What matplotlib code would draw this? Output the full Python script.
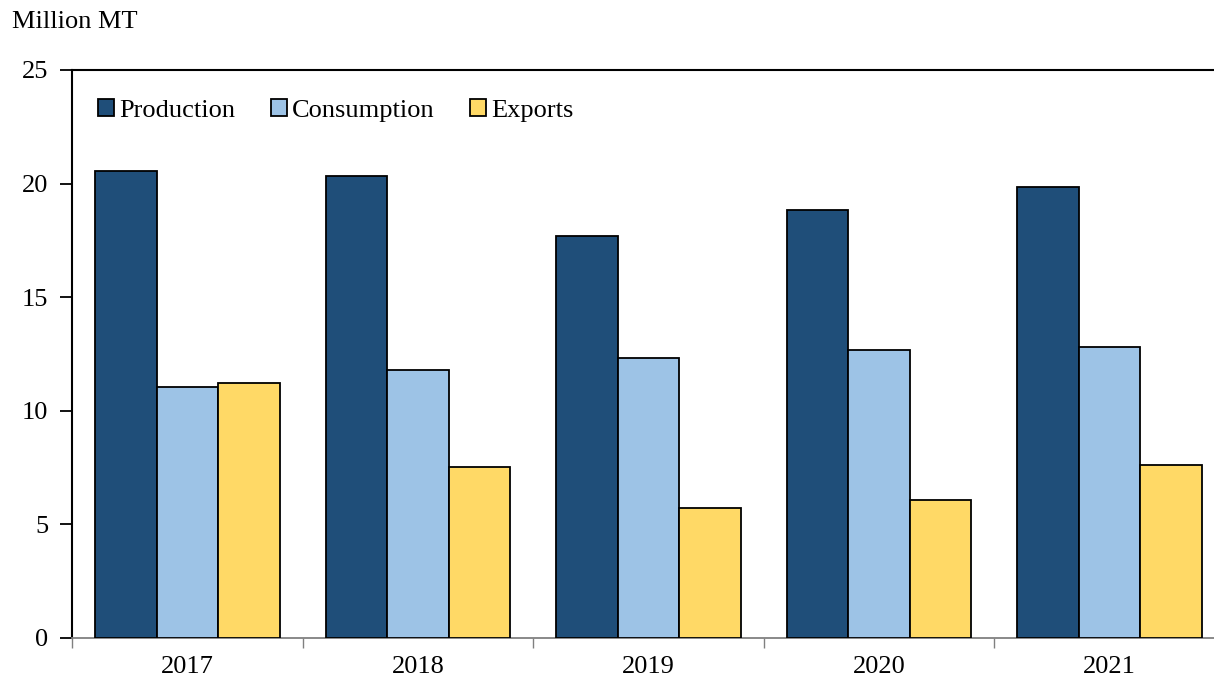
import numpy as np
import matplotlib.pyplot as plt

years = ['2017', '2018', '2019', '2020', '2021']
production = [20.55, 20.33, 17.69, 18.84, 19.85]
consumption = [11.05, 11.80, 12.32, 12.68, 12.81]
exports = [11.22, 7.53, 5.72, 6.07, 7.61]

series = [('Production', production, '#1F4E79'),
          ('Consumption', consumption, '#9DC3E6'),
          ('Exports', exports, '#FFD966')]

plt.rcParams['font.family'] = ['Liberation Serif', 'DejaVu Serif']
plt.rcParams['font.size'] = 19

fig = plt.figure(figsize=(12.14, 6.79), dpi=100)
ax = fig.add_axes([0.0593, 0.0604, 0.9497, 0.8366])

x = np.arange(len(years))
width = 0.8 / 3
for i, (name, vals, color) in enumerate(series):
    ax.bar(x + (i - 1) * width, vals, width, color=color, edgecolor='black',
           linewidth=1.3, label=name, zorder=3)

ax.set_xlim(-0.5, len(years) - 0.5)
ax.set_ylim(0, 25)
ax.set_yticks([0, 5, 10, 15, 20, 25])

# category labels centred, tick marks on the boundaries between groups
ax.set_xticks(x)
ax.set_xticklabels(years)
ax.set_xticks(np.arange(len(years) + 1) - 0.5, minor=True)
ax.tick_params(axis='x', which='major', length=0, pad=13)
ax.tick_params(axis='x', which='minor', length=7, color='#808080', width=1)
ax.tick_params(axis='y', length=9, width=1.3, pad=8, direction='out')

ax.spines['right'].set_visible(False)
ax.spines['top'].set_linewidth(1.5)
ax.spines['left'].set_linewidth(1.5)
ax.spines['bottom'].set_color('#808080')
ax.spines['bottom'].set_linewidth(1.3)

fig.text(0.01, 0.967, 'Million MT', fontsize=19, ha='left', va='center')

ax.legend(loc='upper left', bbox_to_anchor=(0.002, 0.99), ncol=3, frameon=False,
          handlelength=0.6, handleheight=0.6, handletextpad=0.2,
          columnspacing=1.35, fontsize=19)

fig.savefig('out.png', dpi=100)
